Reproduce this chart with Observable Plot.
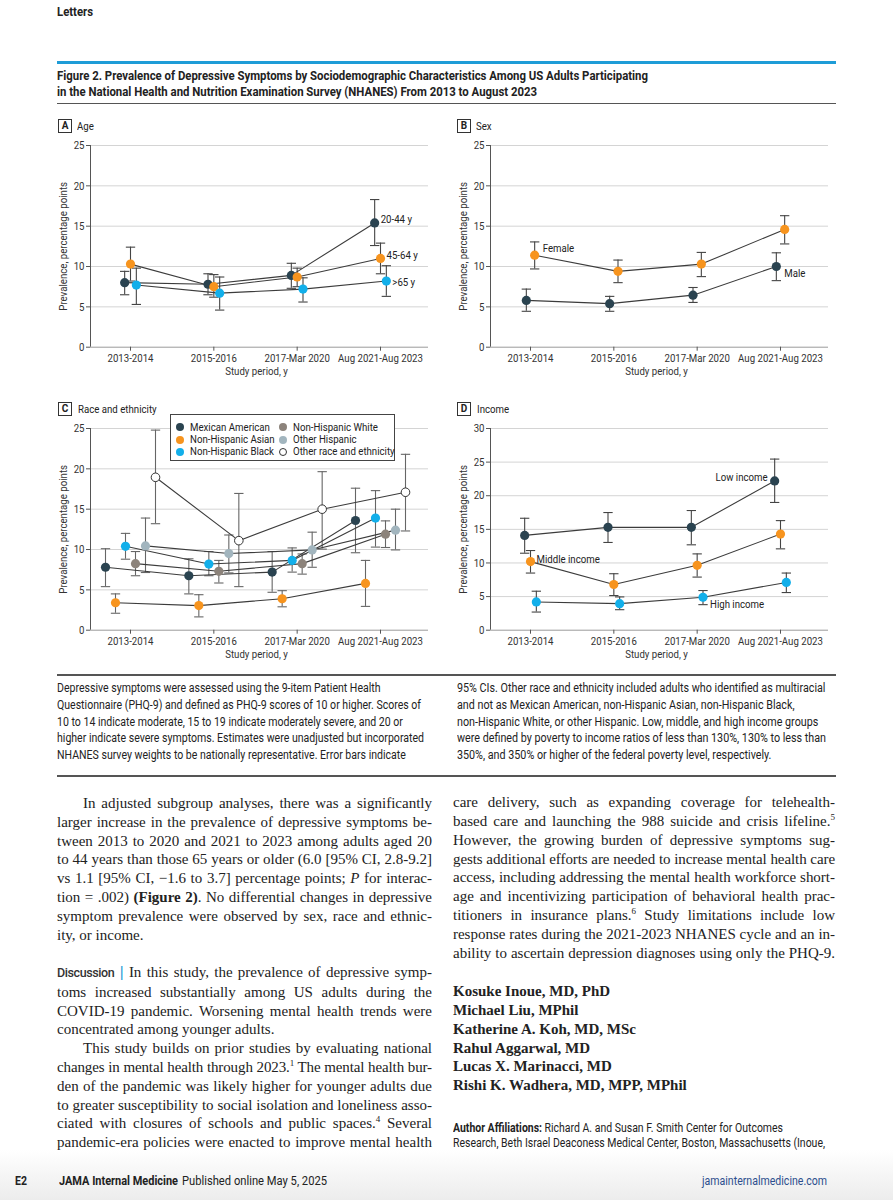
<!DOCTYPE html>
<html><head><meta charset="utf-8">
<script src="https://cdn.jsdelivr.net/npm/d3@7"></script>
<script src="https://cdn.jsdelivr.net/npm/@observablehq/plot@0.6"></script>
<style>
html,body{margin:0;padding:0;background:#fff}
body{width:893px;height:1200px;position:relative;overflow:hidden;font-family:Roboto,'Liberation Sans',sans-serif;color:#222}
.a{position:absolute;white-space:nowrap}
.cn{transform-origin:0 0;transform:scaleX(0.84)}
.rule{position:absolute;left:57px;width:779px}
.pbox{position:absolute;width:12px;height:12px;border:1px solid #333;font-size:10px;font-weight:bold;text-align:center;line-height:12px;background:#fff}
.ptitle{position:absolute;font-size:11.5px;line-height:14px;white-space:nowrap}
.cap{position:absolute;font-size:12px;line-height:16.75px;color:#222;white-space:nowrap}
.col{position:absolute;font-family:'Liberation Serif','DejaVu Serif',serif;font-size:15px;line-height:18.8px;color:#222}
.col div{white-space:nowrap}
.ind{text-indent:26px}
sup{font-size:9px;line-height:0;vertical-align:6px}
.leg{position:absolute;left:170px;top:414px;width:223px;height:45px;border:1px solid #444;background:#fff}
.li{position:absolute;font-size:11.5px;line-height:12px;white-space:nowrap}
.dot{position:absolute;width:8px;height:8px;border-radius:50%}
</style></head><body>
<div class="a" data-w="36" style="left:57px;top:5px;font-size:12px;font-weight:bold;line-height:14px">Letters</div>
<div class="rule" style="top:61px;height:3px;background:#1e9cd7"></div>
<div class="a" data-w="591" style="left:57px;top:68px;font-size:12.5px;font-weight:bold;line-height:16px">Figure 2. Prevalence of Depressive Symptoms by Sociodemographic Characteristics Among US Adults Participating<br>in the National Health and Nutrition Examination Survey (NHANES) From 2013 to August 2023</div>
<div class="rule" style="top:103px;height:1px;background:#555"></div>

<div id="pA" class="a" style="left:40px;top:140px"></div>
<div id="pB" class="a" style="left:440px;top:140px"></div>
<div id="pC" class="a" style="left:40px;top:423.3px"></div>
<div id="pD" class="a" style="left:440px;top:423.3px"></div>
<div id="legend" class="leg"></div>

<div class="pbox" style="left:58px;top:119px">A</div><div class="ptitle cn" style="left:77px;top:118.5px">Age</div>
<div class="pbox" style="left:457px;top:119px">B</div><div class="ptitle cn" style="left:476px;top:118.5px">Sex</div>
<div class="pbox" style="left:58px;top:402px">C</div><div class="ptitle cn" style="left:78px;top:401.5px">Race and ethnicity</div>
<div class="pbox" style="left:457px;top:402px">D</div><div class="ptitle cn" style="left:477px;top:401.5px">Income</div>

<div class="rule" style="top:674px;height:1.5px;background:#555"></div>
<div class="cap" data-w="367" style="left:57px;top:680px">Depressive symptoms were assessed using the 9-item Patient Health<br>Questionnaire (PHQ-9) and defined as PHQ-9 scores of 10 or higher. Scores of<br>10 to 14 indicate moderate, 15 to 19 indicate moderately severe, and 20 or<br>higher indicate severe symptoms. Estimates were unadjusted but incorporated<br>NHANES survey weights to be nationally representative. Error bars indicate</div>
<div class="cap" data-w="369" style="left:457px;top:680px">95% CIs. Other race and ethnicity included adults who identified as multiracial<br>and not as Mexican American, non-Hispanic Asian, non-Hispanic Black,<br>non-Hispanic White, or other Hispanic. Low, middle, and high income groups<br>were defined by poverty to income ratios of less than 130%, 130% to less than<br>350%, and 350% or higher of the federal poverty level, respectively.</div>
<div class="rule" style="top:775px;height:1.5px;background:#555"></div>

<div class="col" style="left:57px;top:794px;width:375px">
<div class="jl ind"><span class="t">In adjusted subgroup analyses, there was a significantly</span></div>
<div class="jl"><span class="t">larger increase in the prevalence of depressive symptoms be-</span></div>
<div class="jl"><span class="t">tween 2013 to 2020 and 2021 to 2023 among adults aged 20</span></div>
<div class="jl"><span class="t">to 44 years than those 65 years or older (6.0 [95% CI, 2.8-9.2]</span></div>
<div class="jl"><span class="t">vs 1.1 [95% CI, −1.6 to 3.7] percentage points; <i>P</i> for interac-</span></div>
<div class="jl"><span class="t">tion = .002) <b>(Figure 2)</b>. No differential changes in depressive</span></div>
<div class="jl"><span class="t">symptom prevalence were observed by sex, race and ethnic-</span></div>
<div class="ll"><span class="t">ity, or income.</span></div>
</div>
<div class="col" style="left:57px;top:963px;width:375px">
<div class="jl"><span class="t"><span style="font-family:Roboto,sans-serif;font-size:12.5px;font-weight:500;color:#333;letter-spacing:-0.4px">Discussion</span> <span style="color:#1e9cd7;font-family:sans-serif">|</span> In this study, the prevalence of depressive symp-</span></div>
<div class="jl"><span class="t">toms increased substantially among US adults during the</span></div>
<div class="jl"><span class="t">COVID-19 pandemic. Worsening mental health trends were</span></div>
<div class="ll"><span class="t">concentrated among younger adults.</span></div>
<div class="jl ind"><span class="t">This study builds on prior studies by evaluating national</span></div>
<div class="jl"><span class="t">changes in mental health through 2023.<sup>1</sup> The mental health bur-</span></div>
<div class="jl"><span class="t">den of the pandemic was likely higher for younger adults due</span></div>
<div class="jl"><span class="t">to greater susceptibility to social isolation and loneliness asso-</span></div>
<div class="jl"><span class="t">ciated with closures of schools and public spaces.<sup>4</sup> Several</span></div>
<div class="jl"><span class="t">pandemic-era policies were enacted to improve mental health</span></div>
</div>
<div class="col" style="left:453px;top:793.3px;width:382px">
<div class="jl"><span class="t">care delivery, such as expanding coverage for telehealth-</span></div>
<div class="jl"><span class="t">based care and launching the 988 suicide and crisis lifeline.<sup>5</sup></span></div>
<div class="jl"><span class="t">However, the growing burden of depressive symptoms sug-</span></div>
<div class="jl"><span class="t">gests additional efforts are needed to increase mental health care</span></div>
<div class="jl"><span class="t">access, including addressing the mental health workforce short-</span></div>
<div class="jl"><span class="t">age and incentivizing participation of behavioral health prac-</span></div>
<div class="jl"><span class="t">titioners in insurance plans.<sup>6</sup> Study limitations include low</span></div>
<div class="jl"><span class="t">response rates during the 2021-2023 NHANES cycle and an in-</span></div>
<div class="jl"><span class="t">ability to ascertain depression diagnoses using only the PHQ-9.</span></div>
</div>
<div class="col" style="left:453px;top:982.3px;width:382px;font-weight:bold">
<div>Kosuke Inoue, MD, PhD</div>
<div>Michael Liu, MPhil</div>
<div>Katherine A. Koh, MD, MSc</div>
<div>Rahul Aggarwal, MD</div>
<div>Lucas X. Marinacci, MD</div>
<div>Rishi K. Wadhera, MD, MPP, MPhil</div>
</div>
<div class="a" data-w="372" style="left:453px;top:1121px;font-size:12px;line-height:15px"><b>Author Affiliations:</b> Richard A. and Susan F. Smith Center for Outcomes<br>Research, Beth Israel Deaconess Medical Center, Boston, Massachusetts (Inoue,</div>

<div class="a" style="left:0;top:1150px;width:893px;height:50px;background:linear-gradient(#fff,#ececec)"></div>
<div class="a cn" style="left:15px;top:1173px;font-size:12.5px;line-height:16px;font-weight:bold">E2</div>
<div class="a" data-w="119" style="left:59px;top:1173px;font-size:12.5px;line-height:16px;font-weight:bold">JAMA Internal Medicine</div>
<div class="a" data-w="145" style="left:182px;top:1173px;font-size:12.5px;line-height:16px">Published online May 5, 2025</div>
<div class="a" data-w="125" style="left:702px;top:1173px;font-size:12.5px;line-height:16px;color:#2d4f8e">jamainternalmedicine.com</div>

<script>
const FONT = "Roboto, 'Liberation Sans', sans-serif";
const SX = 0.84; // horizontal condensing applied to chart text
const periods = ["2013-2014", "2015-2016", "2017-Mar 2020", "Aug 2021-Aug 2023"];
const cDark = "#2a4350", cOrange = "#f7941e", cBlue = "#12afea", cTaupe = "#8c837b", cGrayBlue = "#a2b5be";

// Panel A: Age
const ageNames = ["20-44 y", "45-64 y", ">65 y"];
const age2044 = [8.0, 7.8, 8.9, 15.4], age2044Lo = [6.5, 6.5, 7.3, 12.6], age2044Hi = [9.4, 9.1, 10.4, 18.3];
const age4564 = [10.3, 7.5, 8.7, 11.0], age4564Lo = [8.2, 6.2, 7.5, 9.1], age4564Hi = [12.4, 9.0, 9.8, 12.9];
const age65 = [7.7, 6.7, 7.2, 8.2], age65Lo = [5.3, 4.6, 5.6, 6.3], age65Hi = [9.8, 8.7, 8.6, 10.1];

// Panel B: Sex
const sexNames = ["Male", "Female"];
const male = [5.8, 5.4, 6.45, 10.0], maleLo = [4.45, 4.45, 5.55, 8.25], maleHi = [7.2, 6.3, 7.4, 11.7];
const female = [11.4, 9.4, 10.3, 14.6], femaleLo = [9.7, 8.0, 8.75, 12.8], femaleHi = [13.05, 10.8, 11.75, 16.3];

// Panel C: Race and ethnicity
const raceNames = ["Mexican American", "Non-Hispanic Asian", "Non-Hispanic Black", "Non-Hispanic White", "Other Hispanic", "Other race and ethnicity"];
const mexican = [7.8, 6.75, 7.2, 13.6], mexicanLo = [5.4, 4.5, 4.7, 9.6], mexicanHi = [10.1, 8.85, 9.75, 17.6];
const asian = [3.4, 3.05, 3.9, 5.8], asianLo = [2.1, 1.65, 2.9, 2.95], asianHi = [4.5, 4.4, 4.9, 8.65];
const black = [10.4, 8.2, 8.65, 13.9], blackLo = [8.8, 6.75, 7.2, 10.3], blackHi = [12.0, 9.75, 10.2, 17.3];
const white = [8.25, 7.3, 8.25, 11.9], whiteLo = [6.75, 5.85, 6.95, 10.25], whiteHi = [9.75, 8.65, 9.45, 13.55];
const otherHisp = [10.45, 9.5, 9.95, 12.4], otherHispLo = [7.15, 7.1, 7.8, 9.95], otherHispHi = [13.9, 11.8, 12.15, 15.0];
const otherRace = [18.95, 11.1, 15.0, 17.1], otherRaceLo = [13.2, 5.4, 10.05, 12.3], otherRaceHi = [24.8, 16.95, 19.65, 21.8];

// Panel D: Income
const incomeNames = ["Low income", "Middle income", "High income"];
const lowInc = [14.1, 15.3, 15.3, 22.2], lowIncLo = [11.45, 13.05, 12.7, 19.0], lowIncHi = [16.65, 17.5, 17.8, 25.45];
const midInc = [10.2, 6.8, 9.65, 14.3], midIncLo = [8.5, 5.15, 7.9, 12.1], midIncHi = [11.85, 8.4, 11.35, 16.3];
const highInc = [4.2, 3.95, 4.9, 7.1], highIncLo = [2.7, 3.05, 3.8, 5.6], highIncHi = [5.8, 4.95, 5.9, 8.5];

const X0 = -0.48, X1 = 3.576;

function S(name, color, v, lo, hi, open) { return {name, color, v, lo, hi, open}; }

function condenseSvgText(svg) {
  svg.querySelectorAll("text").forEach(t => {
    const x = parseFloat(t.getAttribute("x")) || 0;
    const y = parseFloat(t.getAttribute("y")) || 0;
    const T = t.getAttribute("transform") || "";
    t.setAttribute("transform", `${T} translate(${x},${y}) scale(${SX},1) translate(${-x},${-y})`);
  });
  return svg;
}

function build(series, opts) {
  const n = series.length;
  const rows = [];
  series.forEach((s, gi) => s.v.forEach((v, pi) => rows.push({g: s.name, x: pi + (gi - (n - 1) / 2) * opts.dodge, v, lo: s.lo[pi], hi: s.hi[pi], color: s.color, open: !!s.open})));
  const cap = 0.056;
  const lbl = opts.labels.map(l => {
    const s = series[l.g];
    const d = {x: l.p + (l.g - (n - 1) / 2) * opts.dodge, v: s.v[l.p], text: s.name};
    return Plot.text([d], {x: "x", y: "v", text: "text", dx: l.dx, dy: l.dy, textAnchor: l.anchor || "start", fontSize: 11.5, fill: "#222"});
  });
  const svg = Plot.plot({
    width: 400, height: 245, marginLeft: 50, marginRight: 12, marginTop: 5, marginBottom: 38.3,
    style: {fontFamily: FONT, fontSize: "11.5px", color: "#333", background: "transparent", overflow: "visible"},
    x: {domain: [X0, X1], axis: null},
    y: {domain: [0, opts.yMax], axis: null},
    color: {type: "identity"},
    marks: [
      Plot.gridY(opts.yTicks.filter(t => t > 0), {stroke: "#d4d4d4", strokeOpacity: 1}),
      Plot.ruleY([0], {stroke: "#9a9a9a"}),
      Plot.ruleX([X0], {y1: 0, y2: opts.yMax, stroke: "#555"}),
      Plot.axisY({ticks: opts.yTicks, tickSize: 4, tickPadding: 2, label: null, stroke: "#555", fontSize: 11.5}),
      Plot.axisX({ticks: [0, 1, 2, 3], tickFormat: i => periods[i], tickSize: 4, tickPadding: 3, label: null, stroke: "#555", fontSize: 11.5}),
      Plot.text(["Study period, y"], {frameAnchor: "bottom", textAnchor: "middle", dy: 28, dx: -3, fontSize: 11.5, fill: "#333"}),
      Plot.text(["Prevalence, percentage points"], {frameAnchor: "left", textAnchor: "middle", dx: -27, rotate: -90, fontSize: 11.5, fill: "#333"}),
      Plot.ruleX(rows, {x: "x", y1: "lo", y2: "hi", stroke: opts.barColor, strokeWidth: 1.1}),
      Plot.link(rows, {x1: d => d.x - cap, x2: d => d.x + cap, y1: "hi", y2: "hi", stroke: opts.barColor, strokeWidth: 1.1}),
      Plot.link(rows, {x1: d => d.x - cap, x2: d => d.x + cap, y1: "lo", y2: "lo", stroke: opts.barColor, strokeWidth: 1.1}),
      Plot.line(rows, {x: "x", y: "v", z: "g", stroke: "#3c3c3c", strokeWidth: 1.1}),
      Plot.dot(rows.filter(d => !d.open), {x: "x", y: "v", r: 4.6, fill: "color", stroke: "none"}),
      Plot.dot(rows.filter(d => d.open), {x: "x", y: "v", r: 4.3, fill: "white", stroke: "#333", strokeWidth: 1}),
      ...lbl
    ]
  });
  return condenseSvgText(svg);
}

const seriesA = [
  S(ageNames[0], cDark, age2044, age2044Lo, age2044Hi),
  S(ageNames[1], cOrange, age4564, age4564Lo, age4564Hi),
  S(ageNames[2], cBlue, age65, age65Lo, age65Hi)
];
const seriesB = [
  S(sexNames[0], cDark, male, maleLo, maleHi),
  S(sexNames[1], cOrange, female, femaleLo, femaleHi)
];
const seriesC = [
  S(raceNames[0], cDark, mexican, mexicanLo, mexicanHi),
  S(raceNames[1], cOrange, asian, asianLo, asianHi),
  S(raceNames[2], cBlue, black, blackLo, blackHi),
  S(raceNames[3], cTaupe, white, whiteLo, whiteHi),
  S(raceNames[4], cGrayBlue, otherHisp, otherHispLo, otherHispHi),
  S(raceNames[5], "#fff", otherRace, otherRaceLo, otherRaceHi, true)
];
const seriesD = [
  S(incomeNames[0], cDark, lowInc, lowIncLo, lowIncHi),
  S(incomeNames[1], cOrange, midInc, midIncLo, midIncHi),
  S(incomeNames[2], cBlue, highInc, highIncLo, highIncHi)
];

document.getElementById("pA").append(build(seriesA, {yMax: 25, yTicks: [0, 5, 10, 15, 20, 25], dodge: 0.07, barColor: "#444",
  labels: [{g: 0, p: 3, dx: 6, dy: -4}, {g: 1, p: 3, dx: 6, dy: -3}, {g: 2, p: 3, dx: 6, dy: 1}]}));
document.getElementById("pB").append(build(seriesB, {yMax: 25, yTicks: [0, 5, 10, 15, 20, 25], dodge: 0.1, barColor: "#444",
  labels: [{g: 1, p: 0, dx: 8, dy: -7}, {g: 0, p: 3, dx: 8, dy: 7}]}));
document.getElementById("pC").append(build(seriesC, {yMax: 25, yTicks: [0, 5, 10, 15, 20, 25], dodge: 0.12, barColor: "#666",
  labels: []}));
document.getElementById("pD").append(build(seriesD, {yMax: 30, yTicks: [0, 5, 10, 15, 20, 25, 30], dodge: 0.07, barColor: "#444",
  labels: [{g: 0, p: 3, dx: -7, dy: -4, anchor: "end"}, {g: 1, p: 0, dx: 6, dy: -2}, {g: 2, p: 2, dx: 7, dy: 7}]}));

// Legend for panel C
const leg = document.getElementById("legend");
const legPos = [[0, 0], [0, 1], [0, 2], [1, 0], [1, 1], [1, 2]];
seriesC.forEach((s, i) => {
  const [c, r] = legPos[i];
  const cx = c === 0 ? 9 : 111.5, cy = 12.3 + r * 12.2;
  const dot = document.createElement("div");
  dot.className = "dot";
  dot.style.left = (cx - 4) + "px"; dot.style.top = (cy - 4) + "px";
  dot.style.background = s.color;
  if (s.open) { dot.style.border = "1px solid #333"; dot.style.width = "6.5px"; dot.style.height = "6.5px"; }
  leg.append(dot);
  const t = document.createElement("div");
  t.className = "li cn"; t.textContent = s.name;
  t.style.left = (cx + 10) + "px"; t.style.top = (cy - 6.5) + "px";
  leg.append(t);
});

// Fit blocks with a target width by horizontal condensing
document.querySelectorAll("[data-w]").forEach(el => {
  const w = el.getBoundingClientRect().width;
  const target = parseFloat(el.dataset.w);
  el.style.transformOrigin = "0 0";
  el.style.transform = `scaleX(${target / w})`;
});

// Fit justified text lines
document.querySelectorAll(".col .jl, .col .ll").forEach(el => {
  const s = el.querySelector("span.t");
  const ind = parseFloat(getComputedStyle(el).textIndent) || 0;
  const W = el.clientWidth - ind;
  const w = s.getBoundingClientRect().width;
  if (w > W - 1) el.style.letterSpacing = ((W - 1 - w) / s.textContent.length) + "px";
  if (el.classList.contains("jl")) { el.style.textAlign = "justify"; el.style.textAlignLast = "justify"; el.style.whiteSpace = "normal"; }
});
</script>
</body></html>
